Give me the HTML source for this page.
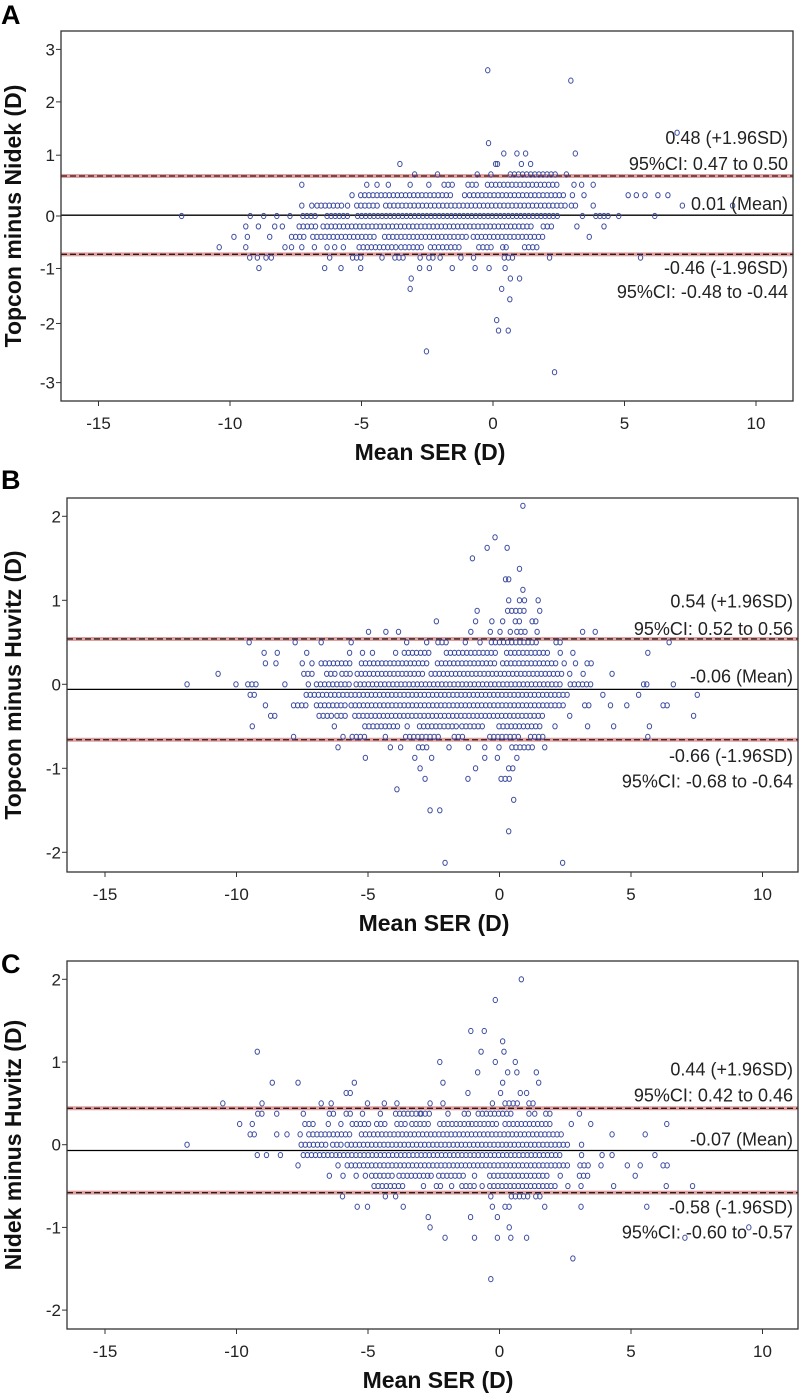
<!DOCTYPE html>
<html><head><meta charset="utf-8"><style>
html,body{margin:0;padding:0;background:#fff;}
svg{display:block;font-family:"Liberation Sans",Arial,sans-serif;}
</style></head><body>
<svg id="chart" width="800" height="1393" viewBox="0 0 800 1393"></svg>
<script>
// ---------- Data ----------
const xTickValues = [-15,-10,-5,0,5,10];
const xTickLabels = ["-15","-10","-5","0","5","10"];
// Panel A (tick labels as printed on the source figure)
const aYTickValues = [2.0,1.37,0.73,0,-0.63,-1.29,-2.0];
const aYTickLabels = ["3","2","1","0","-1","-2","-3"];
const aLimits = [0.48, 0.01, -0.46];
const aLabels = ["0.48 (+1.96SD)","95%CI: 0.47 to 0.50","0.01 (Mean)","-0.46 (-1.96SD)","95%CI: -0.48 to -0.44"];
const aRuns = [[0.5,0.66,2.5],[0.375,-1.86,-1.47],[0.375,-0.95,-0.5],[0.375,-0.21,2.5],
[0.25,-5.03,-1.47],[0.25,-0.89,2.69],[0.125,-6.69,-5.76],[0.125,-5.18,-4.33],[0.125,-4.08,2.79],[0.125,2.98,3.27],
[0,-7.23,-6.69],[0,-6.31,-5.53],[0,-5.15,2.59],[0,3.91,4.43],
[-0.125,-7.37,-6.6],[-0.125,-6.46,1.59],[-0.125,1.91,2.3],
[-0.25,-7.66,-7.08],[-0.25,-6.85,-4.47],[-0.25,-4.12,-0.93],[-0.25,-0.75,1.91],
[-0.375,-5.09,-3.6],[-0.375,-3.5,-2.63],[-0.375,-2.38,-1.18],[-0.375,-0.54,-0.02],[-0.375,1.2,1.72],
[-0.5,-5.34,-4.95],[-0.5,-3.73,-3.31],[-0.5,-2.44,-2.28],[-0.5,0.43,0.75],[-0.625,0.46,0.6]];
const aPoints = [[-0.2,1.75],[2.96,1.625],[7.0,1.0],[-0.17,0.875],[0.41,0.75],[0.91,0.75],[1.24,0.75],[3.13,0.75],
[-3.54,0.625],[0.1,0.625],[0.17,0.625],[1.08,0.625],[1.43,0.625],[-2.98,0.5],[-2.11,0.5],[-0.6,0.5],[-0.08,0.5],[2.79,0.5],
[-7.27,0.375],[-4.8,0.375],[-4.41,0.375],[-3.98,0.375],[-3.15,0.375],[-2.44,0.375],[3.08,0.375],[3.37,0.375],[3.81,0.375],
[-5.36,0.25],[-1.08,0.25],[3.02,0.25],[3.46,0.25],[5.14,0.25],[5.45,0.25],[5.78,0.25],[6.27,0.25],[6.65,0.25],
[-7.27,0.125],[-6.89,0.125],[-5.53,0.125],[3.81,0.125],[7.2,0.125],[9.11,0.125],
[-11.84,0],[-9.23,0],[-8.72,0],[-8.22,0],[-7.72,0],[3.4,0],[4.78,0],[6.15,0],
[-9.4,-0.125],[-8.92,-0.125],[-8.3,-0.125],[-8.01,-0.125],[3.19,-0.125],[4.22,-0.125],
[-9.85,-0.25],[-9.34,-0.25],[-8.49,-0.25],[3.66,-0.25],
[-10.41,-0.375],[-9.4,-0.375],[-7.91,-0.375],[-7.66,-0.375],[-7.27,-0.375],[-6.79,-0.375],[-6.31,-0.375],[-6.02,-0.375],[-5.69,-0.375],[0.37,-0.375],[0.5,-0.375],
[-9.25,-0.5],[-8.96,-0.5],[-8.63,-0.5],[-8.43,-0.5],[-6.21,-0.5],[-4.22,-0.5],[-2.77,-0.5],[-2.01,-0.5],[-1.22,-0.5],[-0.74,-0.5],[2.15,-0.5],[5.61,-0.5],
[-8.9,-0.625],[-6.4,-0.625],[-5.78,-0.625],[-5.03,-0.625],[-2.79,-0.625],[-2.42,-0.625],[-1.55,-0.625],[-0.68,-0.625],[-0.15,-0.625],
[-3.11,-0.75],[0.66,-0.75],[1.01,-0.75],[-3.15,-0.875],[0.33,-0.875],[0.64,-1.0],[0.14,-1.25],[0.21,-1.375],[0.58,-1.375],[-2.53,-1.625],[2.34,-1.875]];
// Panel B
const bYTickValues = [2,1,0,-1,-2];
const bYTickLabels = ["2","1","0","-1","-2"];
const bLimits = [0.54,-0.06,-0.66];
const bLabels = ["0.54 (+1.96SD)","95%CI: 0.52 to 0.56","-0.06 (Mean)","-0.66 (-1.96SD)","95%CI: -0.68 to -0.64"];
const bRuns = [[0.875,0.31,0.99],[0.75,0.6,0.89],[0.625,0.66,1.09],[0.5,-2.34,-2.02],[0.5,-0.31,1.47],[0.5,2.15,2.34],
[0.375,-3.62,-2.66],[0.375,-2.02,-0.02],[0.375,0.27,1.86],
[0.25,-6.78,-5.6],[0.25,-5.25,-2.66],[0.25,-2.36,-0.14],[0.25,0.12,2.15],[0.25,3.33,3.6],
[0.125,-7.44,-7.05],[0.125,-6.57,-6.18],[0.125,-5.99,-5.6],[0.125,-5.41,-2.79],[0.125,-2.6,2.44],
[0,-9.57,-9.22],[0,-6.96,-6.18],[0,-6.03,-5.6],[0,-5.45,2.34],[0,2.69,3.51],
[-0.125,-9.48,-9.19],[-0.125,-7.35,2.69],
[-0.25,-7.83,-7.25],[-0.25,-6.96,-5.79],[-0.25,-5.64,2.44],[-0.25,3.24,3.47],[-0.25,6.22,6.51],
[-0.375,-8.7,-8.41],[-0.375,-6.86,-6.38],[-0.375,-6.18,-5.79],[-0.375,-5.5,1.72],
[-0.5,-5.12,-3.86],[-0.5,-3.04,-1.53],[-0.5,-1.43,-0.6],[-0.5,-0.02,1.67],
[-0.625,-5.6,-5.06],[-0.625,-3.57,-2.21],[-0.625,-1.72,-1.34],[-0.625,-0.37,0.79],[-0.625,1.18,1.67],
[-0.75,-3.08,-2.73],[-0.75,0.47,1.34],[-1.0,0.35,0.6],[-1.125,0.06,0.37]];
const bPoints = [[0.89,2.125],[-0.17,1.75],[-0.47,1.625],[0.29,1.625],[-1.03,1.5],[0.76,1.375],[0.23,1.25],[0.35,1.25],[0.89,1.125],
[0.35,1.0],[0.76,1.0],[0.95,1.0],[1.47,1.0],[-0.85,0.875],[1.53,0.875],
[-2.4,0.75],[-0.91,0.75],[-0.29,0.75],[0.12,0.75],[1.24,0.75],[1.38,0.75],
[-4.98,0.625],[-4.32,0.625],[-3.84,0.625],[-1.09,0.625],[-0.35,0.625],[0.02,0.625],[0.41,0.625],[1.43,0.625],[3.16,0.625],[3.64,0.625],
[-9.52,0.5],[-7.77,0.5],[-6.78,0.5],[-5.64,0.5],[-3.53,0.5],[-2.77,0.5],[-1.3,0.5],[-0.74,0.5],[6.45,0.5],
[-8.95,0.375],[-8.45,0.375],[-7.33,0.375],[-5.7,0.375],[-5.21,0.375],[-4.83,0.375],[-3.95,0.375],[2.31,0.375],[2.79,0.375],[5.64,0.375],
[-8.9,0.25],[-8.5,0.25],[-7.5,0.25],[-7.13,0.25],[2.46,0.25],[2.89,0.25],
[-10.7,0.125],[2.67,0.125],[3.18,0.125],[4.28,0.125],
[-11.88,0],[-10.02,0],[-8.16,0],[-7.27,0],[5.48,0],[5.6,0],[6.61,0],
[3.93,-0.125],[5.29,-0.125],[7.52,-0.125],
[-8.9,-0.25],[4.22,-0.25],[4.84,-0.25],[2.67,-0.375],[7.38,-0.375],
[-9.4,-0.5],[-6.28,-0.5],[-3.51,-0.5],[2.11,-0.5],[3.35,-0.5],[4.34,-0.5],[5.7,-0.5],
[-7.83,-0.625],[-5.95,-0.625],[-4.34,-0.625],[5.64,-0.625],
[-6.14,-0.75],[-4.15,-0.75],[-3.76,-0.75],[-1.92,-0.75],[-1.18,-0.75],[-0.56,-0.75],[-0.02,-0.75],[1.72,-0.75],
[-5.1,-0.875],[-3.22,-0.875],[-2.58,-0.875],[-0.56,-0.875],[-0.08,-0.875],[0.66,-0.875],
[-3.02,-1.0],[-0.91,-1.0],[-2.83,-1.125],[-1.2,-1.125],[-3.9,-1.25],[0.54,-1.375],[-2.64,-1.5],[-2.27,-1.5],[0.35,-1.75],[-2.07,-2.125],[2.4,-2.125]];
// Panel C
const cYTickValues = [2,1,0,-1,-2];
const cYTickLabels = ["2","1","0","-1","-2"];
const cLimits = [0.44,-0.07,-0.58];
const cLabels = ["0.44 (+1.96SD)","95%CI: 0.42 to 0.46","-0.07 (Mean)","-0.58 (-1.96SD)","95%CI: -0.60 to -0.57"];
const cRuns = [[1.0,0.6,0.74],[0.875,0.66,0.79],[0.75,0.12,0.27],[0.625,-5.83,-5.58],[0.625,0.04,0.17],[0.5,0.21,0.74],[0.5,1.12,1.34],
[0.375,-9.19,-8.95],[0.375,-6.47,-6.18],[0.375,-5.83,-5.64],[0.375,-5.21,-5.06],[0.375,-3.95,-3.02],[0.375,-2.98,-2.6],[0.375,-1.34,-1.18],[0.375,-0.81,0.54],[0.375,1.76,1.92],
[0.25,-7.4,-6.96],[0.25,-5.6,-4.98],[0.25,-4.67,-4.24],[0.25,-3.9,-3.47],[0.25,-3.33,-2.69],[0.25,-2.27,-1.18],[0.25,-1.05,-0.08],[0.25,0.21,2.02],[0.25,3.47,3.6],
[0.125,-9.48,-9.3],[0.125,-7.25,-5.64],[0.125,-5.25,2.44],
[0,-7.54,-6.57],[0,-6.34,-6.03],[0,-5.79,2.64],
[-0.125,-7.46,-6.18],[-0.125,-6.08,2.44],[-0.125,3.12,3.24],
[-0.25,-5.79,2.73],[-0.25,3.06,3.51],[-0.25,5.35,5.5],[-0.25,6.22,6.47],
[-0.375,-4.86,-3.95],[-0.375,-3.82,-2.73],[-0.375,-2.31,-1.24],[-0.375,-0.37,1.86],[-0.375,3.04,3.41],
[-0.5,-4.77,-3.62],[-0.5,-2.4,-2.11],[-0.5,-1.82,-1.67],[-0.5,-1.43,-0.85],[-0.5,-0.37,2.25],
[-0.625,0.45,1.09],[-0.625,1.38,1.67],[-0.75,0.21,0.5]];
const cPoints = [[0.83,2.0],[-0.16,1.75],[-1.09,1.375],[-0.58,1.375],[0.12,1.25],[-9.21,1.125],[-0.7,1.125],[0.17,1.125],
[-2.27,1.0],[-0.16,1.0],[-0.83,0.875],[0.31,0.875],[1.4,0.875],[-8.64,0.75],[-7.66,0.75],[-5.52,0.75],[-2.15,0.75],[1.49,0.75],
[-1.2,0.625],[0.79,0.625],[1.03,0.625],
[-10.52,0.5],[-9.03,0.5],[-6.78,0.5],[-6.4,0.5],[-5.02,0.5],[-4.38,0.5],[-3.9,0.5],[-2.64,0.5],[-2.15,0.5],[-0.27,0.5],
[-8.47,0.375],[-7.46,0.375],[-4.53,0.375],[-1.96,0.375],[1.12,0.375],[1.34,0.375],[3.04,0.375],
[-9.88,0.25],[-9.4,0.25],[-6.51,0.25],[-6.03,0.25],[2.73,0.25],[6.36,0.25],
[-8.47,0.125],[-8.08,0.125],[-7.58,0.125],[4.28,0.125],[5.54,0.125],
[-11.88,0],[3.12,0],
[-9.21,-0.125],[-8.86,-0.125],[-8.33,-0.125],[3.9,-0.125],[4.28,-0.125],[5.91,-0.125],
[-7.66,-0.25],[-6.14,-0.25],[3.86,-0.25],[4.86,-0.25],
[-6.47,-0.375],[-5.95,-0.375],[-5.45,-0.375],[-5.1,-0.375],[-2.6,-0.375],[-0.95,-0.375],[2.31,-0.375],[5.16,-0.375],
[-2.89,-0.5],[-0.66,-0.5],[2.6,-0.5],[3.1,-0.5],[4.34,-0.5],[6.34,-0.5],[7.34,-0.5],
[-5.97,-0.625],[-4.34,-0.625],[-3.95,-0.625],[-0.33,-0.625],
[-5.41,-0.75],[-5.02,-0.75],[-3.66,-0.75],[-0.27,-0.75],[1.72,-0.75],[3.1,-0.75],[5.6,-0.75],
[-2.71,-0.875],[-1.1,-0.875],[-0.08,-0.875],[-2.64,-1.0],[0.37,-1.0],[9.48,-1.0],
[-2.07,-1.125],[-0.95,-1.125],[-0.08,-1.125],[0.43,-1.125],[1.03,-1.125],[7.05,-1.125],[2.79,-1.375],[-0.33,-1.625]];

// ---------- Drawing ----------
const NS = "http://www.w3.org/2000/svg";
const svg = document.getElementById("chart");
function mk(tag, attrs, parent){
  const e = document.createElementNS(NS, tag);
  for (const k in attrs) e.setAttribute(k, attrs[k]);
  (parent||svg).appendChild(e); return e;
}
const RUN_STEP = 0.155;

function panel(cfg){
  const g = mk("g", {});
  
  
  const xs = v => cfg.x0 + v*cfg.xk;
  const ys = v => cfg.y0 - v*cfg.yk;
  const L = mk("text", {x:1, y:cfg.letterY, "font-size":27, "font-weight":"bold", fill:"#000"}, g);
  L.textContent = cfg.letter;
  
  
  const lines = mk("g", {}, g);
  
  
  [0,2].forEach(i => {
    const y = ys(cfg.limits[i]);
    mk("line", {x1:cfg.left, x2:cfg.right, y1:y, y2:y, stroke:"#e0a0a0", "stroke-width":4}, lines);
    const d = mk("line", {x1:cfg.left, x2:cfg.right, y1:y, y2:y, stroke:"#2a1a1a", "stroke-width":1.3, "stroke-dasharray":"6,3"}, lines);
    
    
  });
  const m = mk("line", {x1:cfg.left, x2:cfg.right, y1:ys(cfg.limits[1]), y2:ys(cfg.limits[1]), stroke:"#000", "stroke-width":1.3}, lines);
  
  
  const pts = mk("g", {fill:"none", stroke:"#3b4ba0", "stroke-width":1}, g);
  
  
  cfg.runs.forEach(r => {
    for (let x = r[1]; x <= r[2] + 1e-6; x += RUN_STEP) {
      const c = mk("ellipse", {cx:xs(x), cy:ys(r[0]), rx:2.2, ry:2.6}, pts);
      
    }
  });
  cfg.points.forEach(p => {
    const c = mk("ellipse", {cx:xs(p[0]), cy:ys(p[1]), rx:2.2, ry:2.6}, pts);
    
  });
  const box = mk("rect", {x:cfg.left, y:cfg.top, width:cfg.right-cfg.left, height:cfg.bottom-cfg.top, fill:"none", stroke:"#333", "stroke-width":1.3}, g);
  
  
  const xa = mk("g", {}, g);
  
  
  xTickValues.forEach((v,i) => {
    const x = xs(v);
    mk("line", {x1:x, x2:x, y1:cfg.bottom, y2:cfg.bottom+5, stroke:"#333"}, xa);
    const t = mk("text", {x:x, y:cfg.bottom+28, "text-anchor":"middle", "font-size":17, fill:"#222"}, xa);
    t.textContent = xTickLabels[i];
    
  });
  const xt = mk("text", {x:cfg.xTitleX, y:cfg.bottom+59, "text-anchor":"middle", "font-size":23, "font-weight":"bold", fill:"#111"}, g);
  xt.textContent = "Mean SER (D)";
  
  
  const ya = mk("g", {}, g);
  
  
  cfg.yTickValues.forEach((v,i) => {
    const y = ys(v);
    mk("line", {x1:cfg.left-5, x2:cfg.left, y1:y, y2:y, stroke:"#333"}, ya);
    const t = mk("text", {x:cfg.left-6, y:y+6, "text-anchor":"end", "font-size":17, fill:"#222"}, ya);
    t.textContent = cfg.yTickLabels[i];
    
  });
  const cy = (cfg.top+cfg.bottom)/2;
  const yt = mk("text", {x:0, y:0, transform:`translate(21,${cy}) rotate(-90)`, "text-anchor":"middle", "font-size":23, "font-weight":"bold", fill:"#111"}, g);
  yt.textContent = cfg.yTitle;
  
  
  cfg.labels.forEach((s,i) => {
    const t = mk("text", {x:cfg.right-5, y:cfg.labelYs[i]+6, "text-anchor":"end", "font-size":18, fill:"#222"}, g);
    t.textContent = s;
    
    
  });
}

panel({name:"panel-a", letter:"A", letterY:24, left:61, right:793, top:31, bottom:401, x0:493, xk:26.3, y0:216, yk:83.3,
  yTickValues:aYTickValues, yTickLabels:aYTickLabels, limits:aLimits, labels:aLabels, labelYs:[138,164,204,268,292],
  runs:aRuns, points:aPoints, yTitle:"Topcon minus Nidek (D)", xTitleX:430});
panel({name:"panel-b", letter:"B", letterY:489, left:67, right:798, top:498, bottom:872, x0:499.5, xk:26.3, y0:684.3, yk:84,
  yTickValues:bYTickValues, yTickLabels:bYTickLabels, limits:bLimits, labels:bLabels, labelYs:[601.7,629,676.7,756,781.7],
  runs:bRuns, points:bPoints, yTitle:"Topcon minus Huvitz (D)", xTitleX:434});
panel({name:"panel-c", letter:"C", letterY:973, left:67, right:798, top:961, bottom:1329, x0:499.5, xk:26.3, y0:1144.7, yk:82.7,
  yTickValues:cYTickValues, yTickLabels:cYTickLabels, limits:cLimits, labels:cLabels, labelYs:[1069.7,1095.3,1139.7,1207.3,1232.3],
  runs:cRuns, points:cPoints, yTitle:"Nidek minus Huvitz (D)", xTitleX:438});
</script>
</body></html>
